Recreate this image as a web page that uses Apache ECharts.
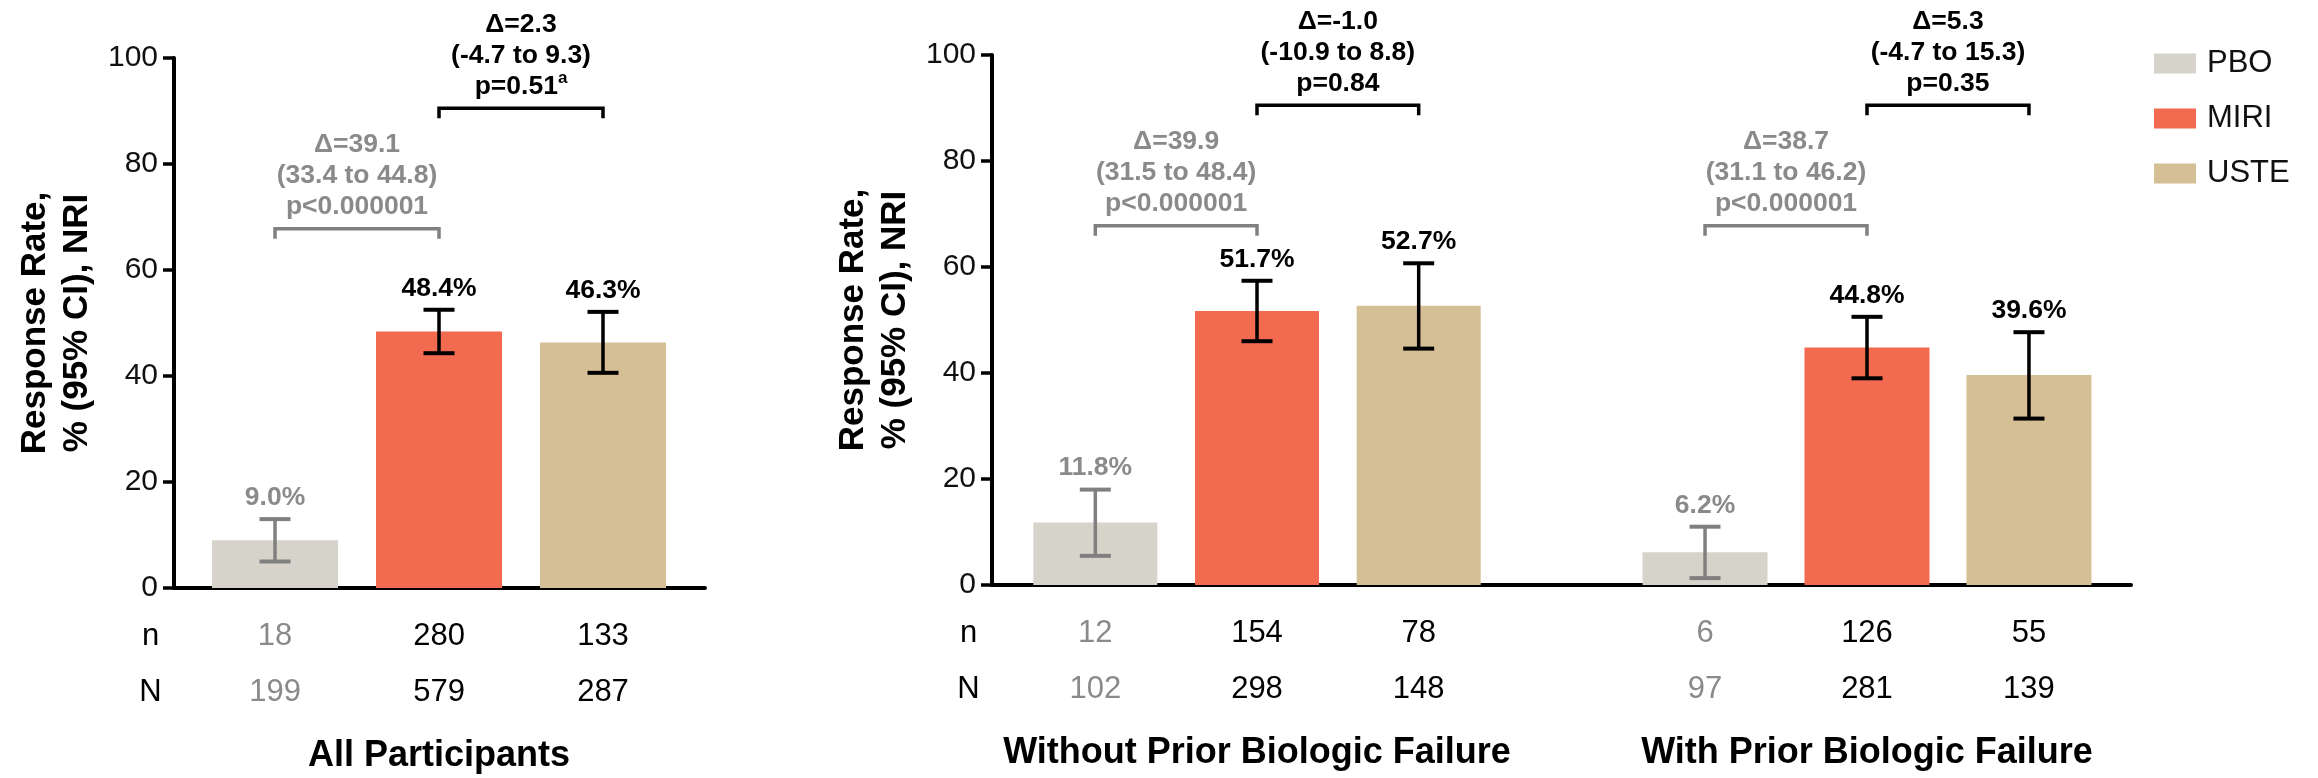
<!DOCTYPE html>
<html><head><meta charset="utf-8">
<style>html,body{margin:0;padding:0;background:#fff}#c{width:2318px;height:778px}</style>
<script src="https://cdn.jsdelivr.net/npm/echarts@6/dist/echarts.min.js"></script>
</head><body><div id="c"></div>
<script>
// ---------- data ----------
const groups = ['PBO', 'MIRI', 'USTE'];
const panels = ['All Participants', 'Without Prior Biologic Failure', 'With Prior Biologic Failure'];
const rates  = [[9.0, 48.4, 46.3], [11.8, 51.7, 52.7], [6.2, 44.8, 39.6]];
const ciLow  = [[5.0, 44.3, 40.6], [5.5, 46.0, 44.6], [1.3, 39.0, 31.4]];
const ciHigh = [[13.0, 52.5, 52.1], [18.0, 57.4, 60.7], [11.0, 50.6, 47.7]];
const nResp  = [[18, 280, 133], [12, 154, 78], [6, 126, 55]];
const nTotal = [[199, 579, 287], [102, 298, 148], [97, 281, 139]];
const deltaPbo = ['Δ=39.1', 'Δ=39.9', 'Δ=38.7'];
const ciPbo    = ['(33.4 to 44.8)', '(31.5 to 48.4)', '(31.1 to 46.2)'];
const pPbo     = ['p<0.000001', 'p<0.000001', 'p<0.000001'];
const deltaUste = ['Δ=2.3', 'Δ=-1.0', 'Δ=5.3'];
const ciUste    = ['(-4.7 to 9.3)', '(-10.9 to 8.8)', '(-4.7 to 15.3)'];
const pUste     = ['p=0.51', 'p=0.84', 'p=0.35'];
const pUsteNote = ['a', '', ''];
const rowLabels = ['n', 'N'];
const yTitle = 'Response Rate,\n% (95% CI), NRI';

// ---------- style ----------
const FONT = '"Liberation Sans", Arial, Helvetica, sans-serif';
const barColors = ['#D6D3CA', '#F26A50', '#D5BF95'];
const GREY_TXT = '#8A8A8A';
const GREY_ERR = '#808080';
const BLACK = '#000000';

const gridDefs = [
  {left: 174, top: 58, width: 531, height: 530, xmin: -0.616, xmax: 2.622, barW: 126, showY: true},
  {left: 992, top: 55, width: 530, height: 530, xmin: -0.639, xmax: 2.639, barW: 124, showY: true},
  {left: 1522, top: 55, width: 609, height: 530, xmin: -1.13, xmax: 2.63, barW: 125, showY: false}
];

const grids = [], xAxes = [], yAxes = [], series = [];

gridDefs.forEach((gd, g) => {
  grids.push({left: gd.left, top: gd.top, width: gd.width, height: gd.height, containLabel: false});
  xAxes.push({
    type: 'value', gridIndex: g, min: gd.xmin, max: gd.xmax,
    axisLine: {show: true, onZero: false, lineStyle: {color: BLACK, width: 4}},
    axisTick: {show: false}, axisLabel: {show: false}, splitLine: {show: false}
  });
  yAxes.push({
    type: 'value', gridIndex: g, min: 0, max: 100, interval: 20, show: gd.showY,
    axisLine: {show: true, onZero: false, lineStyle: {color: BLACK, width: 4}},
    axisTick: {show: true, length: 11, lineStyle: {color: BLACK, width: 3.5}},
    axisLabel: {fontSize: 30, fontFamily: FONT, color: '#111', margin: 16},
    splitLine: {show: false},
    name: yTitle, nameLocation: 'middle', nameRotate: 90, nameGap: 76,
    nameTextStyle: {fontSize: 35, fontWeight: 'bold', fontFamily: FONT, color: BLACK, lineHeight: 42}
  });

  // bars
  groups.forEach((name, k) => {
    series.push({
      type: 'bar', name: name, xAxisIndex: g, yAxisIndex: g,
      barWidth: gd.barW, barGap: '-100%',
      itemStyle: {color: barColors[k]}, silent: true,
      data: [[k, rates[g][k]]]
    });
  });

  // error bars + value labels
  series.push({
    type: 'custom', xAxisIndex: g, yAxisIndex: g, silent: true, z: 5,
    data: rates[g].map((v, k) => [k, ciLow[g][k], ciHigh[g][k], v]),
    renderItem: function (params, api) {
      const k = api.value(0);
      const pLo = api.coord([k, api.value(1)]);
      const pHi = api.coord([k, api.value(2)]);
      const col = k === 0 ? GREY_ERR : BLACK;
      const tcol = k === 0 ? GREY_TXT : BLACK;
      const cap = 15.5;
      return {type: 'group', children: [
        {type: 'line', shape: {x1: pLo[0], y1: pLo[1], x2: pHi[0], y2: pHi[1]}, style: {stroke: col, lineWidth: 3.5}},
        {type: 'line', shape: {x1: pHi[0] - cap, y1: pHi[1], x2: pHi[0] + cap, y2: pHi[1]}, style: {stroke: col, lineWidth: 4}},
        {type: 'line', shape: {x1: pLo[0] - cap, y1: pLo[1], x2: pLo[0] + cap, y2: pLo[1]}, style: {stroke: col, lineWidth: 4}},
        {type: 'text', x: pHi[0], y: pHi[1] - 8, style: {
          text: api.value(3).toFixed(1) + '%', fill: tcol, fontSize: 26.5, fontWeight: 'bold',
          fontFamily: FONT, align: 'center', verticalAlign: 'bottom'}}
      ]};
    }
  });

  // comparison brackets
  series.push({
    type: 'custom', xAxisIndex: g, yAxisIndex: g, silent: true, z: 5,
    data: [[0, 1, 0], [1, 2, 1]],
    renderItem: function (params, api) {
      const a = api.value(0), b = api.value(1), kind = api.value(2);
      const level = kind === 0 ? 67.8 : 90.5;
      const pa = api.coord([a, level]), pb = api.coord([b, level]);
      const col = kind === 0 ? GREY_ERR : BLACK;
      const tcol = kind === 0 ? GREY_TXT : BLACK;
      const drop = 10;
      const cx = (pa[0] + pb[0]) / 2, y = pa[1];
      const lines = kind === 0 ? [deltaPbo[g], ciPbo[g], pPbo[g]] : [deltaUste[g], ciUste[g], pUste[g]];
      const note = kind === 1 ? pUsteNote[g] : '';
      const children = [
        {type: 'polyline', shape: {points: [[pa[0], y + drop], [pa[0], y], [pb[0], y], [pb[0], y + drop]]},
         style: {stroke: col, lineWidth: 3.5, fill: null}}
      ];
      lines.forEach((t, i) => {
        const txt = (i === 2 && note) ? t + '{sup|' + note + '}' : t;
        children.push({type: 'text', x: cx, y: y - 22 - 31 * (2 - i), style: {
          text: txt, fill: tcol, fontSize: 26.5, fontWeight: 'bold', fontFamily: FONT,
          align: 'center', verticalAlign: 'middle',
          rich: {sup: {fontSize: 17, fontWeight: 'bold', fontFamily: FONT, fill: tcol, padding: [0, 0, 16, 0]}}
        }});
      });
      return {type: 'group', children: children};
    }
  });

  // n / N rows and panel titles
  series.push({
    type: 'custom', xAxisIndex: g, yAxisIndex: g, silent: true, z: 5,
    data: [0, 1, 2].map(k => [k, nResp[g][k], nTotal[g][k]]),
    renderItem: function (params, api) {
      const k = api.value(0);
      const p0 = api.coord([k, 0]);
      const tcol = k === 0 ? GREY_TXT : BLACK;
      const base = {fontSize: 31, fontFamily: FONT, align: 'center', verticalAlign: 'middle'};
      const ch = [
        {type: 'text', x: p0[0], y: p0[1] + 48, style: Object.assign({text: String(api.value(1)), fill: tcol}, base)},
        {type: 'text', x: p0[0], y: p0[1] + 104.5, style: Object.assign({text: String(api.value(2)), fill: tcol}, base)}
      ];
      if (k === 1) {
        ch.push({type: 'text', x: p0[0], y: p0[1] + 168, style: {
          text: panels[g], fill: BLACK, fontSize: 36, fontWeight: 'bold', fontFamily: FONT,
          align: 'center', verticalAlign: 'middle'}});
      }
      if (k === 0 && gd.showY) {
        const ax = api.coord([gd.xmin, 0])[0] - 23.5;
        rowLabels.forEach((r, i) => {
          ch.push({type: 'text', x: ax, y: p0[1] + (i === 0 ? 48 : 104.5),
            style: Object.assign({text: r, fill: BLACK}, base)});
        });
      }
      return {type: 'group', children: ch};
    }
  });
});

const chart = echarts.init(document.getElementById('c'), null, {renderer: 'canvas'});
chart.setOption({
  animation: false,
  backgroundColor: '#ffffff',
  grid: grids, xAxis: xAxes, yAxis: yAxes,
  legend: {
    orient: 'vertical', left: 2149, top: 43, icon: 'rect',
    itemWidth: 42, itemHeight: 20, itemGap: 24,
    data: groups,
    textStyle: {fontSize: 31, fontFamily: FONT, color: '#111', padding: [0, 0, 0, 6]}
  },
  series: series
});
</script>
</body></html>
